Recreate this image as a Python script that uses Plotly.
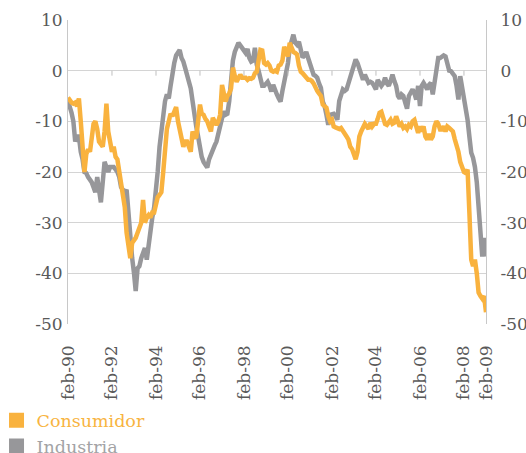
import pandas as pd
import plotly.graph_objects as go

# ---- data (monthly, Feb-1990 .. Feb-2009) ----
start_month = "1990-02-01"
n_months = 229

consumidor = [
    -5.3, -6.0, -6.3, -6.5, -6.3, -7.0, -5.5, -10, -15, -20, -16.5, -15.5,
    -16, -13, -10.5, -10, -11.5, -14, -14.5, -15, -12, -6.5, -12, -14,
    -16, -15, -17, -17.5, -20, -22, -24, -27, -32, -35, -37, -34,
    -33.5, -33, -32, -31, -30, -25.5, -30, -29, -28.5, -29, -28, -28,
    -26, -25, -24.5, -24, -20, -14, -11.5, -10, -8.5, -9, -8, -7.2,
    -10, -12, -13, -15, -14, -14, -15, -16, -12, -13, -13.3, -10,
    -6.7, -8.5, -8.7, -9.5, -10, -11, -12, -9.3, -10, -10.7, -10, -8.7,
    -2.8, -5, -6.1, -5, -4.5, -3.5, 0.6, -1, -2.2, -1.5, -0.8, -1.4,
    -1.5, -1.4, -1.8, -1.5, -1.6, -1.4, -0.5, -0.2, 2, 4.1, 4, 1.5,
    1.2, 1.5, 1, 0, -0.2, 0, -0.2, 1, 1.2, 2, 4.7, 3.5,
    2.8, 5.5, 4.5, 3.7, 3.5, 3.2, 1, -0.2, -0.5, -1, -1.5, -1.8,
    -1.8, -2, -2.5, -3.4, -4, -4.5, -5, -6.7, -7, -7.3, -9, -10,
    -9.7, -11, -11.2, -11.3, -11.5, -11.3, -12, -12.3, -13, -13.6, -15, -15.5,
    -17, -17.5, -16, -13, -12, -11, -10.5, -11, -11.5, -10.3, -11, -10.5,
    -10.5, -9.5, -8.3, -8.1, -9.7, -10.5, -10.7, -10, -9.7, -10.5, -10.3, -9,
    -10, -11, -10.5, -11.3, -11, -11.5, -10.7, -11, -10, -9.7, -11, -12.3,
    -11, -12, -11, -13, -13.6, -12.5, -13.6, -13, -11, -10, -10.5, -11.6,
    -11.6, -11, -12, -11, -11.3, -11.6, -12, -13.5, -14.5, -16, -18, -19,
    -20, -20.2, -19.5, -28, -37.3, -38.6, -37.3, -40, -43.8, -44.5, -45, -44.5, -47.7,
]

industria = [
    -6, -7, -8.3, -10, -14, -13, -13, -16, -17.5, -20, -20.2, -21,
    -21.5, -22, -23, -24, -21, -23, -26, -22, -18, -19, -20, -19,
    -18.9, -19, -19.5, -20, -21, -23, -23.5, -24, -23.5, -28, -34, -37,
    -40, -43.5, -39, -38.6, -37, -36, -35, -37.3, -34, -31, -29, -27,
    -24, -20, -15, -12, -8.7, -6, -4.7, -5.5, -3, -0.2, 1.5, 3,
    3.5, 4.1, 2.5, 1.8, 0.5, -0.8, -2, -3.5, -6, -9, -11, -13,
    -15.2, -17, -18, -18.5, -19.1, -17.5, -16.5, -15.2, -14.8, -14, -12.5, -10.7,
    -8.5, -8, -8.7, -8.5, -6, -2, 2, 3.7, 4.5, 5.5, 5, 4.5,
    4, 3.5, 4.3, 2.5, 1.8, 2, 4.5, 1.2, 0, -2.2, -3, -3,
    -2.5, -2.2, -3, -4.1, -2.8, -3.5, -4.7, -5.5, -6.1, -4, -2.2, 0,
    1.5, 4.5, 5.5, 7.1, 5.5, 5.1, 5.7, 4, 2.6, 3, 3.7, 2.5,
    1.2, 0, -0.8, -1, -1.4, -2.5, -3.4, -6.1, -7, -8.7, -10.7, -8.7,
    -8.7, -8.5, -9, -9.7, -6, -4.4, -3.7, -4, -3.7, -2.5, -1.1, 0,
    1.5, 2.2, 1.5, 0.2, -1, -1.8, -0.8, -1.5, -2.4, -2.2, -2.4, -3,
    -3.7, -1.8, -2.5, -3, -2.5, -1.4, -2.5, -3, -2, -0.8, -2, -3,
    -5, -5.5, -4.7, -5, -6.3, -7.5, -5, -4.4, -3.7, -4.5, -5.7, -3,
    -7, -3, -2.4, -3, -3.7, -2.8, -2.4, -4.7, -2, 1, 2.5, 2.5,
    2.8, 3, 2.8, 1.5, 0, -0.1, -0.5, -1.1, -3, -5.7, -1.1, -3,
    -5.7, -7.5, -9.7, -13, -16.2, -17.2, -19, -22, -26.8, -33, -36.7, -33, -36.7,
]

tick_dates = ["1990-02-01", "1992-02-01", "1994-02-01", "1996-02-01", "1998-02-01",
              "2000-02-01", "2002-02-01", "2004-02-01", "2006-02-01", "2008-02-01",
              "2009-02-01"]
tick_labels = ["feb-90", "feb-92", "feb-94", "feb-96", "feb-98", "feb-00",
               "feb-02", "feb-04", "feb-06", "feb-08", "feb-09"]
y_ticks = [10, 0, -10, -20, -30, -40, -50]
y_tick_labels = ["10", "0", "-10", "-20", "-30", "-40", "-50"]

series_names = ["Consumidor", "Industria"]
series_colors = ["#F9B23E", "#97979A"]
legend_text_colors = ["#F8B43F", "#A3A3A5"]

dates = pd.date_range(start_month, periods=n_months, freq="MS")

FONT = "DejaVu Serif"
GRID = "#D4D4D4"
TXT = "#595959"

fig = go.Figure()

fig.add_trace(go.Scatter(x=dates, y=industria, mode="lines", yaxis="y",
                         line=dict(color=series_colors[1], width=4.5),
                         showlegend=False, hoverinfo="skip"))
fig.add_trace(go.Scatter(x=dates, y=consumidor, mode="lines", yaxis="y2",
                         line=dict(color=series_colors[0], width=4.5),
                         showlegend=False, hoverinfo="skip"))

# legend entries (square swatches)
for name, col, tcol in zip(series_names, series_colors, legend_text_colors):
    fig.add_trace(go.Scatter(x=[None], y=[None], mode="markers", yaxis="y",
                             marker=dict(symbol="square", size=15, color=col),
                             name=f'<span style="color:{tcol}">{name}</span>'))

# small tick marks hanging under the zero line
for d in tick_dates[1:-1]:
    fig.add_shape(type="line", xref="x", yref="y", x0=d, x1=d,
                  ysizemode="pixel", yanchor=0, y0=0, y1=-5,
                  line=dict(color="#BFBFBF", width=1))

fig.update_layout(
    width=526, height=453,
    margin=dict(l=68, r=40, t=20, b=129, autoexpand=False),
    paper_bgcolor="white", plot_bgcolor="white",
    font=dict(family=FONT, size=16, color=TXT),
    showlegend=True,
    legend=dict(xref="paper", yref="paper", x=-0.171, y=-0.258,
                xanchor="left", yanchor="top", bgcolor="rgba(0,0,0,0)",
                font=dict(family=FONT, size=17.5), itemsizing="trace",
                tracegroupgap=0, orientation="v"),
    xaxis=dict(type="date", range=["1990-02-01", "2009-02-01"],
               tickvals=tick_dates, ticktext=tick_labels, tickangle=-90,
               showgrid=False, zeroline=False, showline=False, ticks="",
               ticklabelstandoff=17,
               tickfont=dict(family=FONT, size=17, color=TXT)),
    yaxis=dict(range=[-50, 10], tickvals=y_ticks, ticktext=y_tick_labels,
               showgrid=True, gridcolor=GRID, gridwidth=1, zeroline=False,
               showline=True, linecolor="#C8C8C8", linewidth=1, ticks="",
               ticklabelstandoff=1,
               tickfont=dict(family=FONT, size=17, color=TXT)),
    yaxis2=dict(range=[-50, 10], tickvals=y_ticks, ticktext=y_tick_labels,
                overlaying="y", side="right",
                showgrid=False, zeroline=False, showline=True,
                linecolor="#C8C8C8", linewidth=1, ticks="",
                ticklabelstandoff=10,
                tickfont=dict(family=FONT, size=17, color=TXT)),
)

fig.write_html(
    "out.html",
    config={"displayModeBar": False},
    post_script="document.body.style.margin='0';document.body.style.overflow='hidden';",
)
